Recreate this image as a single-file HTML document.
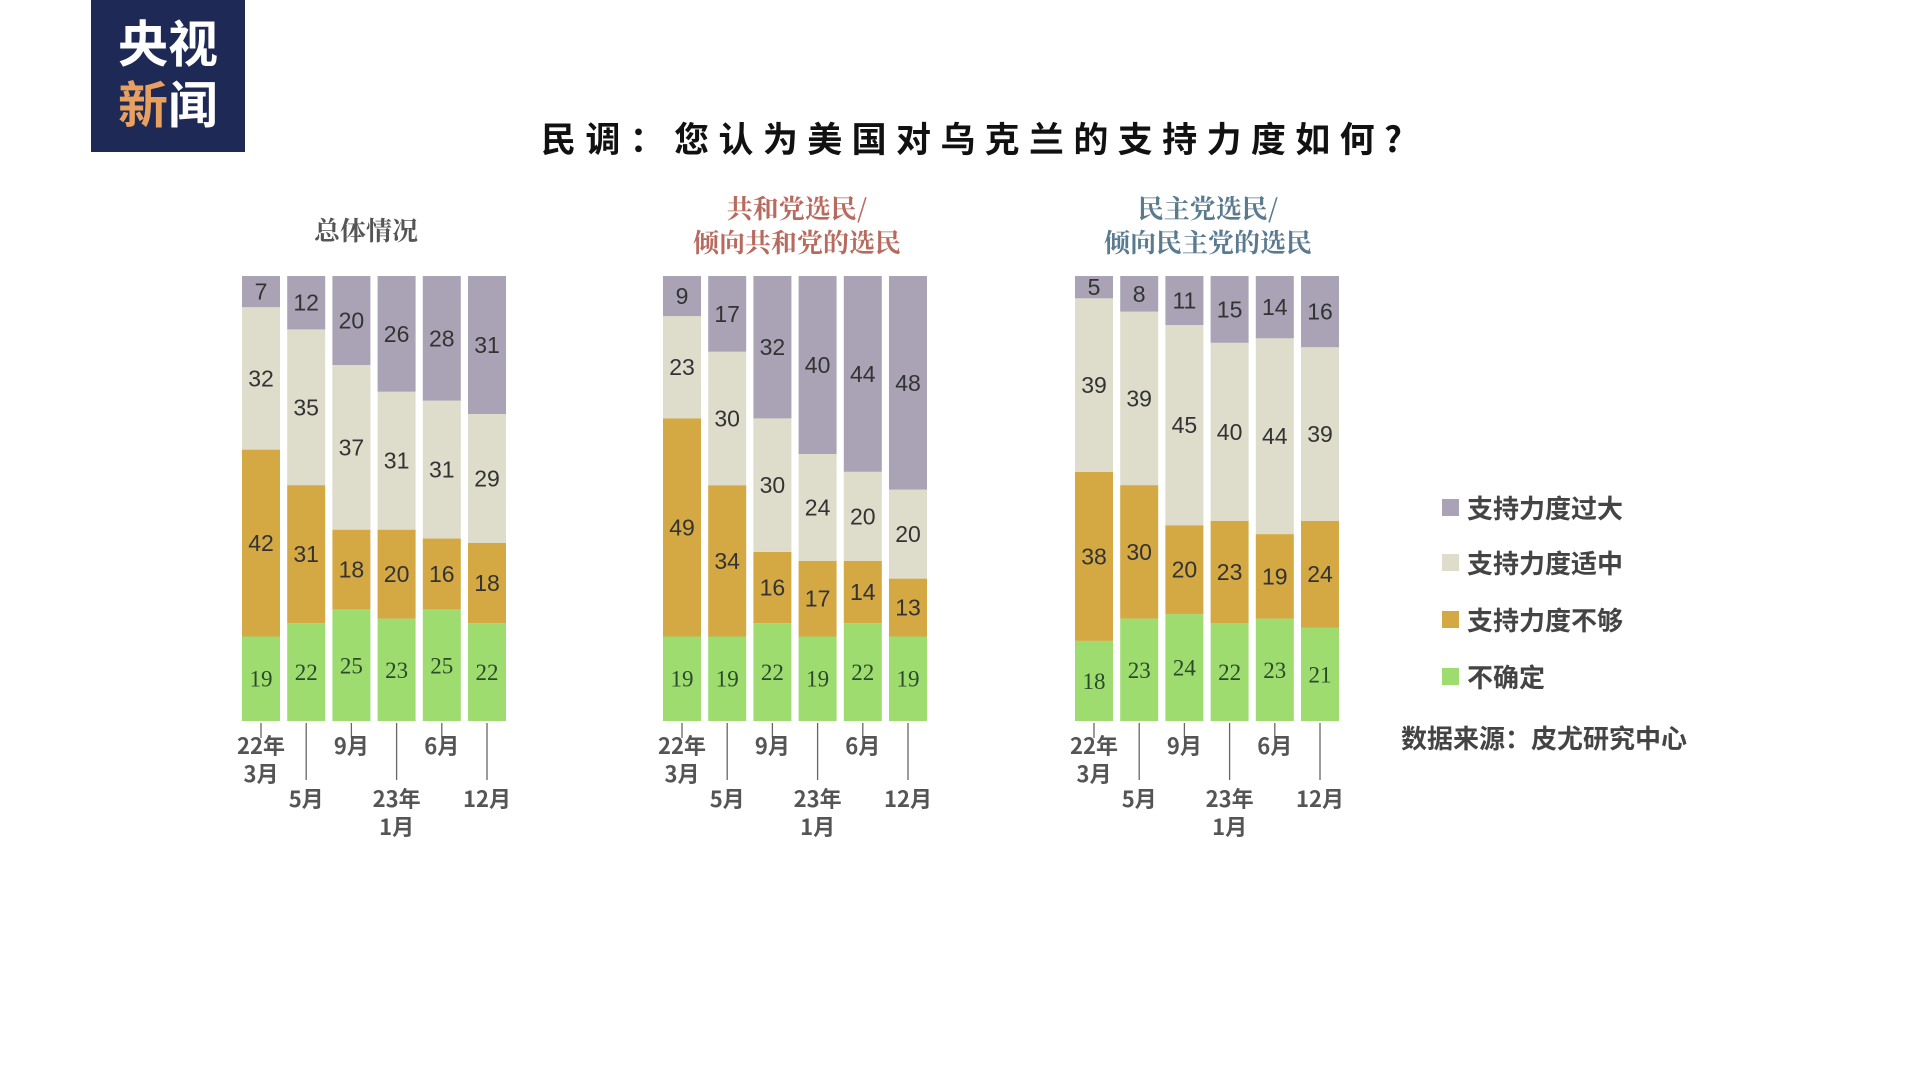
<!DOCTYPE html>
<html><head><meta charset="utf-8"><style>
html,body{margin:0;padding:0;background:#fff;width:1920px;height:1080px;overflow:hidden}
svg{display:block}
</style></head><body>
<svg id="s" width="1920" height="1080" xmlns="http://www.w3.org/2000/svg" font-family="'Liberation Sans','Noto Sans CJK SC',sans-serif">
<rect x="91" y="0" width="154" height="152" fill="#1e2a55"/>
<text x="168" y="62" text-anchor="middle" font-size="50" font-weight="bold" fill="#fff" font-family="'Noto Sans CJK SC',sans-serif">央视</text>
<text x="168" y="123" text-anchor="middle" font-size="50" font-weight="bold" fill="#fff" font-family="'Noto Sans CJK SC',sans-serif"><tspan fill="#e8a060">新</tspan>闻</text>
<text x="541" y="152" font-size="35" font-weight="bold" fill="#111" letter-spacing="9" textLength="870" font-family="'Noto Sans CJK SC',sans-serif">民调：您认为美国对乌克兰的支持力度如何?</text>
<text x="366" y="240" text-anchor="middle" font-size="26" font-weight="bold" fill="#555" font-family="'Noto Serif CJK SC',serif">总体情况</text>
<text x="797" y="218" text-anchor="middle" font-size="26" font-weight="bold" fill="#b86a5e" font-family="'Noto Serif CJK SC',serif">共和党选民/</text>
<text x="797" y="252" text-anchor="middle" font-size="26" font-weight="bold" fill="#b86a5e" font-family="'Noto Serif CJK SC',serif">倾向共和党的选民</text>
<text x="1208" y="218" text-anchor="middle" font-size="26" font-weight="bold" fill="#5a7a90" font-family="'Noto Serif CJK SC',serif">民主党选民/</text>
<text x="1208" y="252" text-anchor="middle" font-size="26" font-weight="bold" fill="#5a7a90" font-family="'Noto Serif CJK SC',serif">倾向民主党的选民</text>
<g font-size="26" fill="#444" font-weight="bold" font-family="'Noto Sans CJK SC',sans-serif">
<rect x="1442" y="499" width="17" height="17" fill="#a9a3b5"/><text x="1467" y="518">支持力度过大</text>
<rect x="1442" y="554" width="17" height="17" fill="#dedccb"/><text x="1467" y="573">支持力度适中</text>
<rect x="1442" y="611" width="17" height="17" fill="#d4a843"/><text x="1467" y="630">支持力度不够</text>
<rect x="1442" y="668" width="17" height="17" fill="#9edc70"/><text x="1467" y="687">不确定</text>
<text x="1401" y="748">数据来源：皮尤研究中心</text>
</g>
<g id="charts"></g>
</svg>
<script>
var D=[[[7,32,42,19],[12,35,31,22],[20,37,18,25],[26,31,20,23],[28,31,16,25],[31,29,18,22]],
[[9,23,49,19],[17,30,34,19],[32,30,16,22],[40,24,17,19],[44,20,14,22],[48,20,13,19]],
[[5,39,38,18],[8,39,30,23],[11,45,20,24],[15,40,23,22],[14,44,19,23],[16,39,24,21]]];
var X0=[242,663,1075],C=["#a9a3b5","#dedccb","#d4a843","#9edc70"],TC=["#333","#333","#333","#2a4a2a"];
var h="",B=721,K=4.45,W=38,P=45.2;
for(var c=0;c<3;c++){for(var i=0;i<6;i++){var x=X0[c]+i*P,y=B,d=D[c][i];
 for(var s=3;s>=0;s--){var hh=d[s]*K;y-=hh;
  h+='<rect x="'+x.toFixed(1)+'" y="'+y.toFixed(1)+'" width="'+W+'" height="'+hh.toFixed(1)+'" fill="'+C[s]+'"/>';
  var ty=y+hh/2+8;
  h+='<text x="'+(x+W/2).toFixed(1)+'" y="'+ty.toFixed(1)+'" text-anchor="middle" font-size="23" fill="'+TC[s]+'" font-family="'+(s==3?"Liberation Serif,serif":"Liberation Sans Narrow,Liberation Sans,sans-serif")+'">'+d[s]+'</text>';}
 h+='<line x1="'+(x+W/2).toFixed(1)+'" y1="723" x2="'+(x+W/2).toFixed(1)+'" y2="'+(i%2?780:738)+'" stroke="#666" stroke-width="1.3"/>';}
 var cx=function(i){return (X0[c]+i*P+W/2).toFixed(1)};
 var L=[[0,["22年","3月"],746],[1,["5月"],799],[2,["9月"],746],[3,["23年","1月"],799],[4,["6月"],746],[5,["12月"],799]];
 L.forEach(function(l){l[1].forEach(function(t,k){h+='<text x="'+cx(l[0])+'" y="'+(l[2]+k*28+8)+'" text-anchor="middle" font-size="22" font-weight="bold" fill="#555" font-family="Liberation Sans Narrow,Noto Sans CJK SC,sans-serif">'+t+'</text>';});});
}
document.getElementById("charts").innerHTML=h;
</script>
</body></html>
